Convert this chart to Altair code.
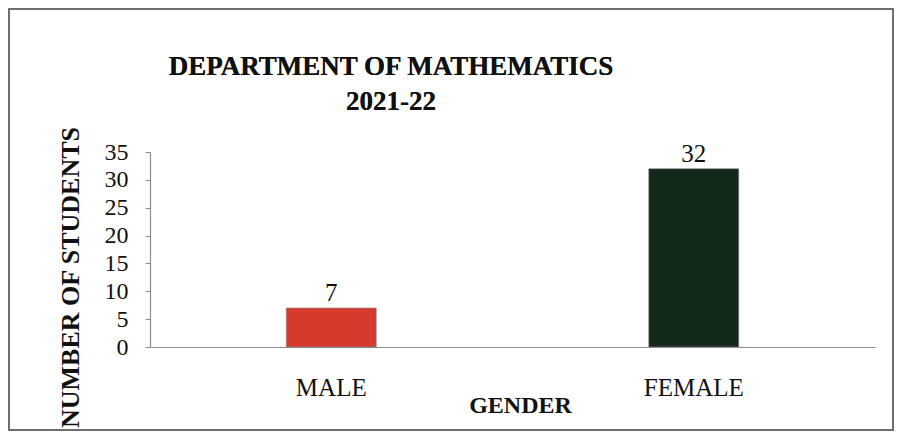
import altair as alt
import pandas as pd

genders = ["MALE", "FEMALE"]
students = [7, 32]
bar_colors = ["#d63a2c", "#13291a"]
title_lines = ["DEPARTMENT OF MATHEMATICS", "2021-22"]

df = pd.DataFrame({"gender": genders, "students": students})

FONT = "Liberation Serif"
W, H = 725, 195

base = alt.Chart(df).encode(
    x=alt.X(
        "gender:N",
        sort=genders,
        scale=alt.Scale(paddingInner=0, paddingOuter=0),
        axis=alt.Axis(
            title="GENDER",
            titleFont=FONT,
            titleFontSize=24,
            titleFontWeight="bold",
            titleColor="#111",
            titleX=370,
            titleY=58,
            titleBaseline="middle",
            titleAlign="center",
            labelFont=FONT,
            labelFontSize=25,
            labelColor="#111",
            labelAngle=0,
            labelPadding=28,
            ticks=False,
            domainColor="#8c8c8c",
            domainWidth=1.2,
        ),
    ),
    y=alt.Y(
        "students:Q",
        scale=alt.Scale(domain=[0, 35], nice=False),
        axis=alt.Axis(
            values=[0, 5, 10, 15, 20, 25, 30, 35],
            labelOverlap=False,
            title="NUMBER OF STUDENTS",
            titleFont=FONT,
            titleFontSize=26,
            titleFontWeight="bold",
            titleColor="#111",
            titleAngle=270,
            titleX=-80,
            titleY=125,
            titleAlign="center",
            titleBaseline="middle",
            labelFont=FONT,
            labelFontSize=24,
            labelColor="#111",
            labelPadding=17,
            tickSize=5,
            tickColor="#8c8c8c",
            domainColor="#8c8c8c",
            domainWidth=1.2,
            grid=False,
        ),
    ),
)

bars = base.mark_bar(size=90, stroke="#8a8a8a", strokeWidth=0.6).encode(
    color=alt.Color("gender:N", scale=alt.Scale(domain=genders, range=bar_colors), legend=None),
)

labels = base.mark_text(font=FONT, fontSize=25, color="#111", baseline="bottom", dy=-2).encode(
    text="students:Q",
)

frame = alt.Chart(df).mark_rect(fill=None, stroke="#666", strokeWidth=1.5).encode(
    x=alt.value(-141), x2=alt.value(743), y=alt.value(-143), y2=alt.value(278)
)

title1 = alt.Chart(df).mark_text(
    text=title_lines[0], font=FONT, fontSize=27, fontWeight="bold", color="#111",
    align="center", baseline="alphabetic",
).encode(x=alt.value(241), y=alt.value(-77))

title2 = alt.Chart(df).mark_text(
    text=title_lines[1], font=FONT, fontSize=27, fontWeight="bold", color="#111",
    align="center", baseline="alphabetic",
).encode(x=alt.value(241), y=alt.value(-42))

chart = alt.layer(frame, title1, title2, bars, labels).properties(
    width=W,
    height=H,
    autosize=alt.AutoSizeParams(type="none"),
    padding={"left": 142, "top": 144, "right": 20, "bottom": 85},
    background="white",
).configure_view(stroke=None, strokeWidth=0)

chart.save("out.html", embed_options={"renderer": "svg", "actions": False})
